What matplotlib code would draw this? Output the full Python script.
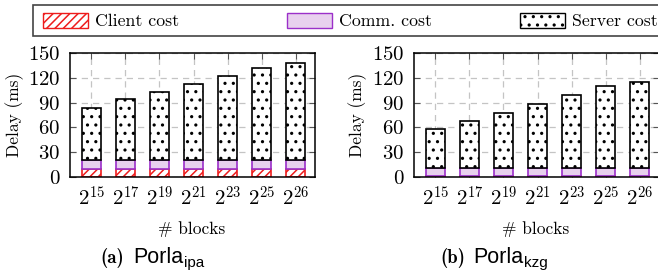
import numpy as np
import matplotlib
matplotlib.use('Agg')
import matplotlib.pyplot as plt
from matplotlib.patches import Patch, Rectangle

plt.rcParams['mathtext.fontset'] = 'cm'
plt.rcParams['font.family'] = 'cmr10'
plt.rcParams['axes.formatter.use_mathtext'] = True
plt.rcParams['hatch.linewidth'] = 1.1

# data
exponents = [15, 17, 19, 21, 23, 25, 26]
ipa_client = [10, 10, 10, 10, 10, 10, 10]
ipa_comm = [10, 10, 10, 10, 10, 10, 10]
ipa_total = [84, 94, 103, 112.5, 122, 131.5, 137.5]
kzg_client = [1, 1, 1, 1, 1, 1, 1]
kzg_comm = [10, 10, 10, 10, 10, 10, 10]
kzg_total = [57.5, 68, 78, 88.5, 99, 109.5, 115]
yticks = [0, 30, 60, 90, 120, 150]
tick_labels = [r'$2^{%d}$' % e for e in exponents]
series_names = ['Client cost', 'Comm. cost', 'Server cost']

red = '#ee1c1c'
purple = '#9b2fc9'
purple_fill = '#e8d0ee'

W, H = 658, 276
fig = plt.figure(figsize=(W / 100, H / 100), dpi=100)

def draw(ax, client, comm, total):
    x = np.arange(len(client))
    client = np.array(client)
    comm = np.array(comm)
    server = np.array(total) - client - comm
    bw = 0.56
    ax.bar(x, client, bw, color='white', edgecolor=red, hatch='////', linewidth=1.2, zorder=3)
    ax.bar(x, comm, bw, bottom=client, color=purple_fill, edgecolor=purple, linewidth=1.2, zorder=3)
    ax.bar(x, server, bw, bottom=client + comm, color='white', edgecolor='black', hatch='..', linewidth=1.2, zorder=3)
    ax.set_xlim(-0.63, 6.57)
    ax.set_ylim(0, 150)
    ax.set_xticks(x)
    ax.set_xticklabels(tick_labels, fontsize=15)
    ax.set_yticks(yticks)
    ax.set_yticklabels(['$%d$' % v for v in yticks], fontsize=15)
    ax.grid(True, color='#c4c4c4', linestyle=(0, (5, 4)), linewidth=0.9, zorder=0)
    ax.tick_params(direction='in', top=True, right=True, length=4, color='#555555', pad=7)
    ax.tick_params(axis='x', pad=6)
    for s in ax.spines.values():
        s.set_linewidth(1.1)
        s.set_zorder(4)
    ax.set_axisbelow(True)

ax1 = fig.add_axes([70 / W, (H - 177) / H, 245 / W, 124 / H])
draw(ax1, ipa_client, ipa_comm, ipa_total)
ax2 = fig.add_axes([414 / W, (H - 177) / H, 245 / W, 124 / H])
draw(ax2, kzg_client, kzg_comm, kzg_total)

fig.text(15 / W, 1 - 115 / H, 'Delay (ms)', rotation=90, ha='center', va='center', fontsize=12.5)
fig.text(358 / W, 1 - 115 / H, 'Delay (ms)', rotation=90, ha='center', va='center', fontsize=12.5)
fig.text(192 / W, 1 - 229 / H, '# blocks', ha='center', va='center', fontsize=12.5)
fig.text(536 / W, 1 - 229 / H, '# blocks', ha='center', va='center', fontsize=12.5)

renderer = fig.canvas.get_renderer()
for lab, name, sub, x0 in [('(a)', 'Porla', 'ipa', 100), ('(b)', 'Porla', 'kzg', 440)]:
    fig.text(x0 / W, 1 - 263 / H, lab, family='cmb10', fontsize=13.5, ha='left', va='baseline')
    t = fig.text((x0 + 33) / W, 1 - 263 / H, name, family='Liberation Sans', fontsize=15.5,
                 ha='left', va='baseline')
    bb = t.get_window_extent(renderer)
    fig.text(bb.x1 / W + 0.5 / W, 1 - 267 / H, sub, family='Liberation Sans', fontsize=11,
             ha='left', va='baseline')

# legend frame
fig.patches.append(Rectangle((33 / W, 1 - 36 / H), 640 / W, 31 / H, transform=fig.transFigure,
                             facecolor='white', edgecolor='#444444', linewidth=1.2, zorder=0))
handles = [
    Patch(facecolor='white', edgecolor=red, hatch='////', label=series_names[0]),
    Patch(facecolor=purple_fill, edgecolor=purple, label=series_names[1]),
    Patch(facecolor='white', edgecolor='black', hatch='..', label=series_names[2]),
]
for h, lx in zip(handles, [43, 287, 520]):
    fig.legend(handles=[h], loc='center left',
               bbox_to_anchor=(lx / W, 1 - 21 / H), fontsize=12.8, frameon=False,
               handlelength=2.55, handleheight=0.9, handletextpad=0.35,
               borderpad=0, borderaxespad=0)

fig.savefig('out.png', dpi=100)
